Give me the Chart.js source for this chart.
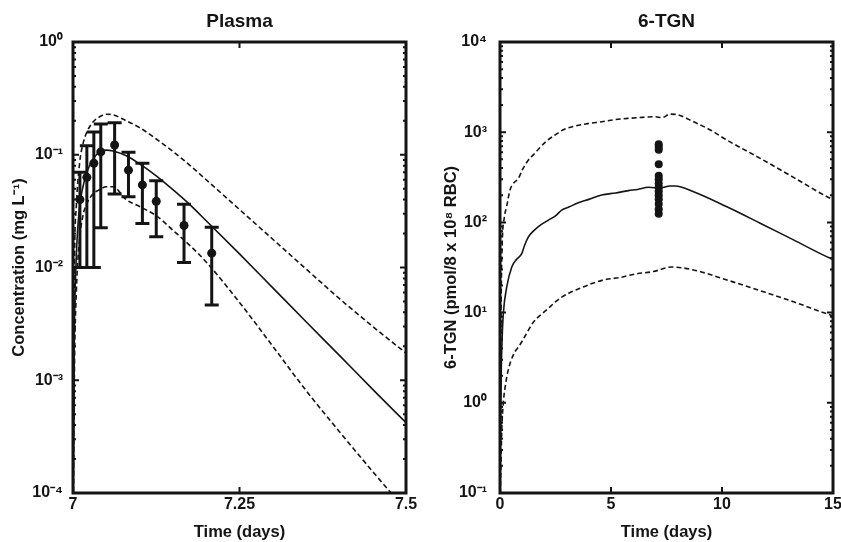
<!DOCTYPE html>
<html>
<head>
<meta charset="utf-8">
<script src="https://cdn.jsdelivr.net/npm/chart.js@4.4.1/dist/chart.umd.min.js"></script>
<style>
  html, body { margin: 0; padding: 0; background: #fff; }
  #wrap { position: relative; width: 841px; height: 542px; }
  .panel { position: absolute; top: 0; height: 542px; }
</style>
</head>
<body>
<div id="wrap">
  <div class="panel" style="left:0;width:420px"><canvas id="plasma"></canvas></div>
  <div class="panel" style="left:420px;width:421px"><canvas id="tgn"></canvas></div>
</div>
<script>
// ---- Plasma panel ----
const plasmaXTicks = [7, 7.25, 7.5];
const plasmaYTicks = [1e-4, 1e-3, 1e-2, 1e-1, 1];

// observed mean +/- range
const obsTime = [7.0104, 7.0208, 7.0313, 7.0417, 7.0625, 7.0833, 7.1042, 7.125, 7.1667, 7.2083];
const obsMean = [0.040, 0.063, 0.084, 0.106, 0.122, 0.073, 0.054, 0.0386, 0.0236, 0.0134];
const obsLow  = [0.0100, 0.0100, 0.0100, 0.0225, 0.0448, 0.0424, 0.0246, 0.0187, 0.0111, 0.00464];
const obsHigh = [0.070, 0.120, 0.159, 0.187, 0.192, 0.105, 0.084, 0.0588, 0.0363, 0.0228];

// model prediction (median, 5th and 95th percentiles)
const plasmaT   = [7.000, 7.002, 7.005, 7.010, 7.015, 7.020, 7.030, 7.040, 7.050, 7.060, 7.080, 7.100, 7.125, 7.150, 7.175, 7.200, 7.250, 7.300, 7.350, 7.400, 7.450, 7.500];
const plasmaMed = [0.00006, 0.0025, 0.0126, 0.035, 0.052, 0.068, 0.091, 0.106, 0.110, 0.108, 0.098, 0.083, 0.065, 0.049, 0.0363, 0.026, 0.0132, 0.0066, 0.0033, 0.00166, 0.00083, 0.00042];
const plasmaHi  = [0.00003, 0.008, 0.035, 0.085, 0.125, 0.155, 0.195, 0.217, 0.229, 0.226, 0.200, 0.174, 0.138, 0.107, 0.081, 0.060, 0.0327, 0.0178, 0.0097, 0.0053, 0.0030, 0.00174];
const plasmaLo  = [0.00002, 0.001, 0.006, 0.018, 0.029, 0.036, 0.045, 0.049, 0.052, 0.052, 0.040, 0.0347, 0.0288, 0.0214, 0.0158, 0.0112, 0.0049, 0.0020, 0.00081, 0.00035, 0.000155, 0.00007];

// ---- 6-TGN panel ----
const tgnXTicks = [0, 5, 10, 15];
const tgnYTicks = [1e-1, 1, 1e1, 1e2, 1e3, 1e4];

const tgnObsTime = [7.15, 7.15, 7.15, 7.15, 7.15, 7.15, 7.15, 7.15, 7.15, 7.15, 7.15, 7.15, 7.15, 7.15];
const tgnObs     = [735, 690, 640, 440, 330, 300, 270, 245, 222, 200, 180, 160, 140, 125];

const tgnMedT = [0, 0.03, 0.06, 0.1, 0.15, 0.3, 0.53, 0.75, 0.98, 1.1, 1.28, 1.5, 1.73, 2.18, 2.5, 2.78, 3.1, 3.53, 4.0, 4.58, 5.2, 5.79, 6.2, 6.69, 7.2, 7.66, 7.89, 8.72, 10.22, 11.72, 13.22, 14.88, 15];
const tgnMed  = [0.08, 0.8, 2.5, 5.5, 9.8, 19, 32, 39, 45, 55, 69, 80, 90, 106, 118, 137, 148, 165, 180, 201, 212, 225, 232, 245, 240, 253, 253, 219, 149, 98, 64, 40, 39];

const tgnHiT = [0, 0.03, 0.06, 0.1, 0.2, 0.3, 0.45, 0.6, 0.83, 1.0, 1.28, 1.5, 1.73, 2.1, 2.48, 2.9, 3.38, 4.0, 4.58, 5.2, 5.79, 6.4, 6.99, 7.3, 7.66, 8.0, 8.72, 9.5, 10.22, 11.72, 13.22, 14.88, 15];
const tgnHi  = [0.08, 3, 20, 60, 115, 150, 229, 270, 308, 380, 492, 560, 646, 800, 931, 1080, 1172, 1250, 1306, 1380, 1425, 1460, 1486, 1450, 1585, 1560, 1306, 1050, 818, 513, 316, 185, 180];

const tgnLoT = [0, 0.03, 0.08, 0.15, 0.25, 0.37, 0.6, 0.9, 1.13, 1.5, 2.1, 2.7, 3.6, 4.66, 5.4, 6.1, 6.9, 7.74, 8.72, 10.22, 11.72, 13.22, 14.88, 15];
const tgnLo  = [0.08, 0.15, 0.5, 1.0, 1.6, 2.3, 3.4, 4.4, 5.5, 7.8, 10.7, 14.4, 18.6, 23, 24.5, 26.8, 28.5, 32, 29.7, 23, 17.5, 13.2, 9.4, 9.2];

const INK = '#141414';
Chart.defaults.font.family = '"Liberation Sans", Arial, sans-serif';
Chart.defaults.color = INK;

const sup = { '-': '\u207B', '0': '\u2070', '1': '\u00B9', '2': '\u00B2', '3': '\u00B3', '4': '\u2074' };
function powLabel(v) {
  const k = Math.round(Math.log10(v));
  return '10' + String(k).split('').map(c => sup[c]).join('');
}

function pts(xs, ys) {
  return xs.map((x, i) => ({ x: x, y: ys[i] }));
}

// box, inward ticks and log minor ticks, matlab style
const boxAxes = {
  id: 'boxAxes',
  afterLayout(chart) {
    // center the title over the plot box, not over the canvas
    const tb = chart.titleBlock;
    if (tb) {
      tb.left = chart.chartArea.left;
      tb.right = chart.chartArea.right;
      tb.width = tb.right - tb.left;
    }
  },
  afterDraw(chart) {
    const { ctx, chartArea: a } = chart;
    const x = chart.scales.x, y = chart.scales.y;
    ctx.save();
    ctx.strokeStyle = INK;
    ctx.lineWidth = 2;
    ctx.beginPath();
    x.ticks.forEach(t => {
      const px = x.getPixelForValue(t.value);
      ctx.moveTo(px, a.bottom); ctx.lineTo(px, a.bottom - 6);
      ctx.moveTo(px, a.top); ctx.lineTo(px, a.top + 6);
    });
    const lo = Math.round(Math.log10(y.min)), hi = Math.round(Math.log10(y.max));
    for (let k = lo; k <= hi; k++) {
      for (let m = 1; m < 10; m++) {
        if (m > 1 && k === hi) break;
        const py = y.getPixelForValue(m * Math.pow(10, k));
        const len = m === 1 ? 6 : 3;
        ctx.moveTo(a.left, py); ctx.lineTo(a.left + len, py);
        ctx.moveTo(a.right, py); ctx.lineTo(a.right - len, py);
      }
    }
    ctx.stroke();
    ctx.lineWidth = 3;
    ctx.strokeRect(a.left, a.top, a.right - a.left, a.bottom - a.top);
    ctx.restore();
  }
};

const errorBars = {
  id: 'errorBars',
  afterDatasetsDraw(chart) {
    const { ctx } = chart;
    const x = chart.scales.x, y = chart.scales.y;
    ctx.save();
    ctx.strokeStyle = INK;
    ctx.lineWidth = 3;
    ctx.beginPath();
    obsTime.forEach((t, i) => {
      const px = x.getPixelForValue(t);
      const pLo = y.getPixelForValue(obsLow[i]);
      const pHi = y.getPixelForValue(obsHigh[i]);
      ctx.moveTo(px, pLo); ctx.lineTo(px, pHi);
      ctx.moveTo(px - 7, pLo); ctx.lineTo(px + 7, pLo);
      ctx.moveTo(px - 7, pHi); ctx.lineTo(px + 7, pHi);
    });
    ctx.stroke();
    ctx.restore();
  }
};

function curve(data, dashed) {
  return {
    data: data, showLine: true, pointRadius: 0, borderColor: INK,
    borderWidth: 1.6, borderDash: dashed ? [5, 3] : [],
    cubicInterpolationMode: 'monotone'
  };
}

function panelOptions(cfg) {
  return {
    responsive: true,
    maintainAspectRatio: false,
    animation: false,
    events: [],
    layout: { padding: { top: 0, right: cfg.padRight, bottom: 0, left: 0 } },
    plugins: {
      legend: { display: false },
      tooltip: { enabled: false },
      title: {
        display: true, text: cfg.title, color: INK,
        font: { size: 19, weight: 'bold' },
        padding: { top: 10, bottom: 9.2 }
      }
    },
    scales: {
      x: {
        type: 'linear', min: cfg.xTicks[0], max: cfg.xTicks[cfg.xTicks.length - 1],
        afterBuildTicks: s => { s.ticks = cfg.xTicks.map(v => ({ value: v })); },
        ticks: { callback: v => String(v), font: { size: 16, weight: 'bold' }, color: INK, padding: 2, maxRotation: 0 },
        grid: { display: false, drawTicks: false },
        border: { display: false },
        title: { display: true, text: 'Time (days)', color: INK, font: { size: 16.5, weight: 'bold' }, padding: 0 },
        afterFit: s => { s.height = 49; s.paddingLeft = 0; s.paddingRight = 0; }
      },
      y: {
        type: 'logarithmic', min: cfg.yTicks[0], max: cfg.yTicks[cfg.yTicks.length - 1],
        afterBuildTicks: s => { s.ticks = cfg.yTicks.map(v => ({ value: v })); },
        ticks: { callback: v => powLabel(v), font: { size: 16, weight: 'bold' }, color: INK, padding: cfg.yTickPad },
        grid: { display: false, drawTicks: false },
        border: { display: false },
        title: { display: true, text: cfg.yTitle, color: INK, font: { size: 16.5, weight: 'bold' }, padding: { top: cfg.yTitlePad, bottom: 0 } },
        afterFit: s => { s.width = cfg.yWidth; s.paddingTop = 0; s.paddingBottom = 0; }
      }
    }
  };
}

new Chart(document.getElementById('plasma'), {
  type: 'scatter',
  data: {
    datasets: [
      curve(pts(plasmaT, plasmaHi), true),
      curve(pts(plasmaT, plasmaLo), true),
      curve(pts(plasmaT, plasmaMed), false),
      { data: pts(obsTime, obsMean), pointRadius: 4.5, backgroundColor: INK, borderWidth: 0, showLine: false }
    ]
  },
  options: panelOptions({
    title: 'Plasma', xTicks: plasmaXTicks, yTicks: plasmaYTicks,
    yTitle: 'Concentration (mg L\u207B\u00B9)', yWidth: 73, yTickPad: 10, yTitlePad: 10, padRight: 14
  }),
  plugins: [errorBars, boxAxes]
});

new Chart(document.getElementById('tgn'), {
  type: 'scatter',
  data: {
    datasets: [
      curve(pts(tgnHiT, tgnHi), true),
      curve(pts(tgnLoT, tgnLo), true),
      curve(pts(tgnMedT, tgnMed), false),
      { data: pts(tgnObsTime, tgnObs), pointRadius: 4, backgroundColor: INK, borderWidth: 0, showLine: false }
    ]
  },
  options: panelOptions({
    title: '6-TGN', xTicks: tgnXTicks, yTicks: tgnYTicks,
    yTitle: '6-TGN (pmol/8 x 10\u2078 RBC)', yWidth: 80, yTickPad: 13, yTitlePad: 22, padRight: 8
  }),
  plugins: [boxAxes]
});
</script>
</body>
</html>
